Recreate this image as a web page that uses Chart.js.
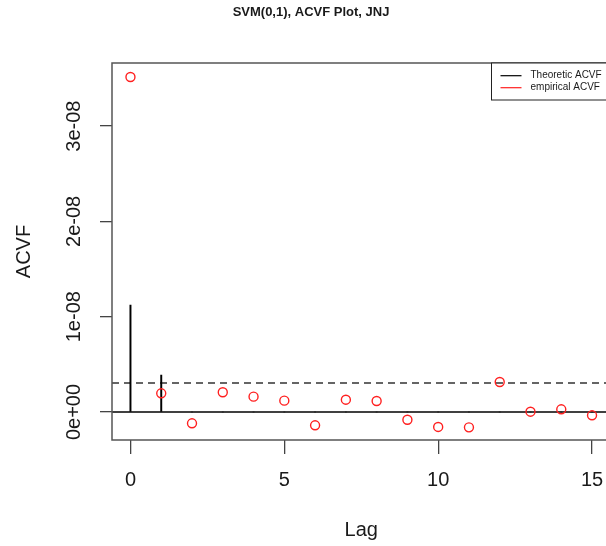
<!DOCTYPE html>
<html><head><meta charset="utf-8">
<script src="https://cdn.jsdelivr.net/npm/chart.js@4/dist/chart.umd.min.js"></script>
<style>
html,body{margin:0;padding:0;overflow:hidden;background:#fff;width:606px;height:546px}
#wrap{position:absolute;left:0;top:0;width:622px;height:546px}
</style>
</head><body><div id="wrap"><canvas id="c" width="622" height="546"></canvas></div>
<script>
const TITLE = 'SVM(0,1), ACVF Plot, JNJ';
const X_LABEL = 'Lag';
const Y_LABEL = 'ACVF';
const SERIES_NAMES = ['Theoretic ACVF', 'empirical ACVF'];
const LAGS = [0,1,2,3,4,5,6,7,8,9,10,11,12,13,14,15];
const EMPIRICAL = [3.515e-8, 0.196e-8, -0.119e-8, 0.207e-8, 0.161e-8, 0.119e-8, -0.140e-8, 0.129e-8,
                   0.115e-8, -0.081e-8, -0.157e-8, -0.161e-8, 0.315e-8, 0.003e-8, 0.028e-8, -0.035e-8];
const THEORETIC = [1.123e-8, 0.388e-8, 0,0,0,0,0,0,0,0,0,0,0,0,0,0];
const CONF_LEVEL = 0.304e-8;
const ZERO_LEVEL = 0;
const X_TICKS = [0,5,10,15];
const X_TICK_LABELS = ['0','5','10','15'];
const Y_TICKS = [0,1e-8,2e-8,3e-8];
const Y_TICK_LABELS = ['0e+00','1e-08','2e-08','3e-08'];
const X_RANGE = [-0.6, 15.6];
const Y_RANGE = [-0.294e-8, 3.662e-8];

const FONT = "'Liberation Sans', Arial, Helvetica, sans-serif";
const TXT = '#1a1a1a';
const AXC = '#444';

const boxPlugin = {
  id: 'rbox',
  afterDatasetsDraw(chart) {
    const {ctx, chartArea: a} = chart;
    ctx.save();
    ctx.strokeStyle = '#555'; ctx.lineWidth = 1.5;
    ctx.strokeRect(a.left, a.top, a.right - a.left, a.bottom - a.top);
    // legend
    const w = 119, h = 37;
    const lx = a.right - w, ly = a.top;
    ctx.fillStyle = '#fff';
    ctx.fillRect(lx, ly, w, h);
    ctx.strokeStyle = '#222'; ctx.lineWidth = 1;
    ctx.strokeRect(lx, ly, w, h);
    const cols = ['#000', '#ff2020'];
    ctx.font = '10px ' + FONT;
    ctx.textBaseline = 'middle';
    ctx.textAlign = 'left';
    SERIES_NAMES.forEach((name, i) => {
      const yy = ly + 12.7 + i * 12;
      ctx.strokeStyle = cols[i]; ctx.lineWidth = 1.2;
      ctx.beginPath(); ctx.moveTo(lx + 9, yy); ctx.lineTo(lx + 30, yy); ctx.stroke();
      ctx.fillStyle = TXT;
      ctx.fillText(name, lx + 39, yy);
    });
    ctx.restore();
  }
};

new Chart(document.getElementById('c'), {
  type: 'scatter',
  data: {
    datasets: [
      {
        type: 'line', label: 'zero',
        data: [{x: X_RANGE[0], y: ZERO_LEVEL}, {x: X_RANGE[1], y: ZERO_LEVEL}],
        borderColor: '#000', borderWidth: 1.4, pointRadius: 0, fill: false, order: 3
      },
      {
        type: 'line', label: 'conf',
        data: [{x: X_RANGE[0], y: CONF_LEVEL}, {x: X_RANGE[1], y: CONF_LEVEL}],
        borderColor: '#333', borderWidth: 1.3, borderDash: [7, 5], pointRadius: 0, fill: false, order: 3
      },
      {
        type: 'bar', label: SERIES_NAMES[0],
        data: LAGS.map((l, i) => ({x: l, y: THEORETIC[i]})),
        backgroundColor: '#000', borderWidth: 0, barThickness: 1.3, grouped: false, order: 2
      },
      {
        type: 'scatter', label: SERIES_NAMES[1],
        data: LAGS.map((l, i) => ({x: l, y: EMPIRICAL[i]})),
        pointStyle: 'circle', pointRadius: 4.5, pointBorderWidth: 1.4,
        borderColor: '#ff2020', backgroundColor: 'rgba(0,0,0,0)', pointHoverRadius: 4.5, order: 1
      }
    ]
  },
  options: {
    responsive: false, animation: false, devicePixelRatio: 1,
    layout: {padding: 0},
    plugins: {
      legend: {display: false},
      tooltip: {enabled: false},
      title: {display: true, text: TITLE, color: TXT,
        font: {family: FONT, size: 13, weight: 'bold', lineHeight: 1.2},
        padding: {top: 5, bottom: 42.4}}
    },
    scales: {
      x: {
        type: 'linear', position: 'bottom', min: X_RANGE[0], max: X_RANGE[1], offset: false,
        afterBuildTicks: s => { s.ticks = X_TICKS.map(v => ({value: v})); },
        afterFit: s => { s.height = 106; s.paddingLeft = 0; s.paddingRight = 11.5; },
        ticks: {callback: (v) => X_TICK_LABELS[X_TICKS.indexOf(v)], color: TXT,
          font: {family: FONT, size: 20}, padding: 14, maxRotation: 0, minRotation: 0},
        grid: {display: true, offset: false, drawOnChartArea: false, drawTicks: true, tickLength: 14, color: AXC, lineWidth: 1.3},
        border: {display: false},
        title: {display: true, text: X_LABEL, color: TXT, font: {family: FONT, size: 20, lineHeight: 1.2}, padding: {top: 0, bottom: 4}}
      },
      y: {
        type: 'linear', position: 'left', min: Y_RANGE[0], max: Y_RANGE[1],
        afterBuildTicks: s => { s.ticks = Y_TICKS.map(v => ({value: v})); },
        afterFit: s => { s.width = 112; s.paddingTop = 0; s.paddingBottom = 0; },
        ticks: {callback: (v) => Y_TICK_LABELS[Y_TICKS.indexOf(v)], color: TXT,
          font: {family: FONT, size: 20}, padding: -3, minRotation: 90, maxRotation: 90, crossAlign: 'center'},
        grid: {display: true, drawOnChartArea: false, drawTicks: true, tickLength: 12, color: AXC, lineWidth: 1.3},
        border: {display: false},
        title: {display: true, text: Y_LABEL, color: TXT, font: {family: FONT, size: 20, lineHeight: 1.2}, padding: {top: 12, bottom: 0}}
      }
    }
  },
  plugins: [boxPlugin]
});
</script>
</body></html>
